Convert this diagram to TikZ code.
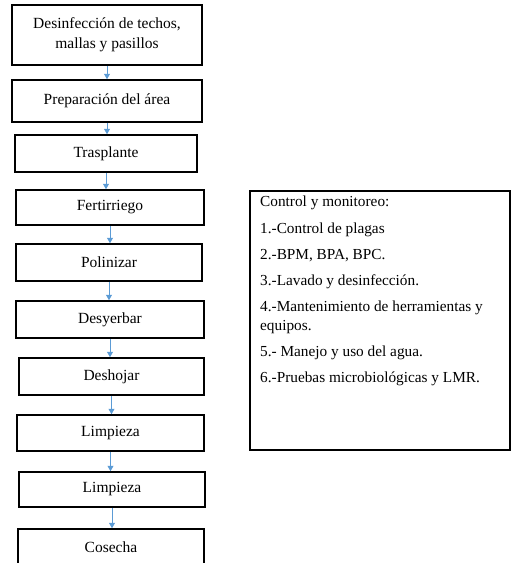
\documentclass[tikz,border=0pt]{standalone}
\usepackage{fontspec}
\setmainfont{Liberation Serif}
\usetikzlibrary{arrows.meta}
\definecolor{flecha}{RGB}{91,155,213}
\tikzset{
  paso/.style={draw,line width=1.5pt,inner sep=0pt,align=center,
    font=\fontsize{15.5}{20}\selectfont},
  flechita/.style={flecha,line width=0.9pt,-{Triangle[width=6pt,length=5.5pt]}},
  item/.style={anchor=base west,inner sep=0pt,font=\fontsize{15.3}{18}\selectfont}
}
\begin{document}
\begin{tikzpicture}[x=1pt,y=-1pt]
            \useasboundingbox (0,0) rectangle (511,563);
            % pasos del proceso (columna izquierda)
            \node[paso,minimum width=190pt,minimum height=60pt] (p1) at (107,35)
                {Desinfección de techos,\\mallas y pasillos};
            \node[paso,minimum width=190pt,minimum height=42pt] (p2) at (107,101) {Preparación del área};
            \node[paso,minimum width=182pt,minimum height=37pt] (p3) at (106,153.5) {Trasplante};
            \node[paso,minimum width=188pt,minimum height=35pt] (p4) at (110,207.5) {Fertirriego};
            \node[paso,minimum width=186pt,minimum height=37pt] (p5) at (109,262.5) {Polinizar};
            \node[paso,minimum width=188pt,minimum height=37pt] (p6) at (110,319.5) {Desyerbar};
            \node[paso,minimum width=185pt,minimum height=37pt] (p7) at (111.5,376.5) {Deshojar};
            \node[paso,minimum width=187pt,minimum height=36pt] (p8) at (110.5,433) {Limpieza};
            \node[paso,minimum width=186pt,minimum height=35pt] (p9) at (112,489.5) {Limpieza};
            \node[paso,minimum width=186pt,minimum height=36pt] (p10) at (111,547) {Cosecha};
            % flechas entre pasos
            \foreach \a/\b in {p1/p2, p2/p3, p3/p4, p4/p5, p5/p6, p6/p7, p7/p8, p8/p9, p9/p10} {
                \draw[flechita] (\a.south) -- (\a.south |- \b.north);
            }
            % cuadro de control
            \node[draw,line width=1.5pt,inner sep=0pt,minimum width=260pt,minimum height=259pt]
                (ctrl) at (380,320.5) {};
            \node[item] (c0) at (260,206.5) {Control y monitoreo:};
            \node[item] (c1) at (260,233) {1.-Control de plagas};
            \node[item] (c2) at (260,259) {2.-BPM, BPA, BPC.};
            \node[item] (c3) at (260,285) {3.-Lavado y desinfección.};
            \node[item] (c4) at (260,311.5) {4.-Mantenimiento de herramientas y};
            \node[item] (c4b) at (260,330) {equipos.};
            \node[item] (c5) at (260,356) {5.- Manejo y uso del agua.};
            \node[item] (c6) at (260,382) {6.-Pruebas microbiológicas y LMR.};
\end{tikzpicture}
\end{document}
